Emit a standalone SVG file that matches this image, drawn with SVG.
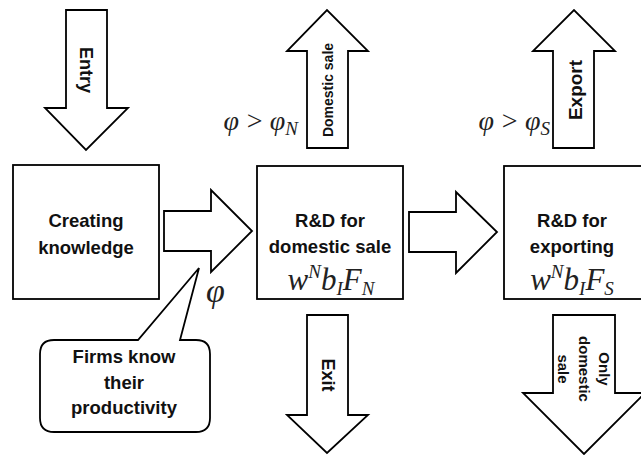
<svg xmlns="http://www.w3.org/2000/svg" width="641" height="455" viewBox="0 0 641 455">
<style>
.shape{fill:#fff;stroke:#000;stroke-width:1.8;stroke-linejoin:miter}
.lbl{font-family:"Liberation Sans",Arial,sans-serif;font-weight:bold;fill:#111;text-anchor:middle}
.math{font-family:"Liberation Serif","Times New Roman",serif;font-style:italic;fill:#222}
</style>
<rect width="641" height="455" fill="#fff"/>
<g id="connectors">
  <g id="arrow-entry">
    <polygon class="shape" points="66,10 107,10 107,108 128,108 86,150 45,108 66,108"/>
    <text class="lbl" font-size="18" dominant-baseline="central" transform="rotate(90 86 70)" x="86" y="70">Entry</text>
  </g>
  <g id="arrow-1">
    <polygon class="shape" points="164,211 211,211 211,190 252,231 211,272 211,251 164,251"/>
  </g>
  <g id="arrow-2">
    <polygon class="shape" points="409,212 456,212 456,192 497,232 456,273 456,252 409,252"/>
  </g>
  <g id="arrow-domestic">
    <polygon class="shape" points="307,148 307,51 287,51 327,10 368,51 348,51 348,148"/>
    <text class="lbl" font-size="14" dominant-baseline="central" transform="rotate(-90 328 90)" x="328" y="90">Domestic sale</text>
  </g>
  <g id="arrow-exit">
    <polygon class="shape" points="307,315 348,315 348,415 368,415 327,453 287,415 307,415"/>
    <text class="lbl" font-size="18" dominant-baseline="central" transform="rotate(90 328 375)" x="328" y="375">Exit</text>
  </g>
  <g id="arrow-export">
    <polygon class="shape" points="553,148 553,51 533,51 574,10 615,51 594,51 594,148"/>
    <text class="lbl" font-size="19" dominant-baseline="central" transform="rotate(-90 575 90)" x="575" y="90">Export</text>
  </g>
  <g id="arrow-only">
    <polygon class="shape" points="553,315 615,315 615,393 645,393 584,454 523,393 553,393"/>
    <g class="lbl" font-size="15">
      <text dominant-baseline="central" transform="rotate(90 604 369)" x="604" y="369">Only</text>
      <text dominant-baseline="central" transform="rotate(90 584 369)" x="584" y="369">domestic</text>
      <text dominant-baseline="central" transform="rotate(90 563 369)" x="563" y="369">sale</text>
    </g>
  </g>
  <text class="math" font-size="28" x="298" y="130" text-anchor="end">φ<tspan dx="6">&gt;</tspan><tspan dx="6">φ</tspan><tspan font-size="19" dy="5">N</tspan></text>
  <text class="math" font-size="28" x="550" y="130" text-anchor="end">φ<tspan dx="6">&gt;</tspan><tspan dx="6">φ</tspan><tspan font-size="19" dy="5">S</tspan></text>
  <text class="math" font-size="34" x="206" y="302">φ</text>
</g>
<g id="node-creating">
  <rect class="shape" x="13" y="165" width="146" height="134"/>
  <text class="lbl" font-size="18.5" x="86" y="227">Creating</text>
  <text class="lbl" font-size="18.5" x="86" y="254">knowledge</text>
</g>
<g id="node-domestic">
  <rect class="shape" x="257" y="166" width="146" height="133"/>
  <text class="lbl" font-size="18.5" x="330" y="227">R&amp;D for</text>
  <text class="lbl" font-size="18.5" x="330" y="253">domestic sale</text>
  <text class="math" font-size="31" x="331" y="290" text-anchor="middle">w<tspan font-size="19" dy="-12">N</tspan><tspan dy="12">b</tspan><tspan font-size="19" dy="5">I</tspan><tspan dy="-5">F</tspan><tspan font-size="19" dy="5">N</tspan></text>
</g>
<g id="node-exporting">
  <rect class="shape" x="504" y="166" width="145" height="133"/>
  <text class="lbl" font-size="18.5" x="572" y="227">R&amp;D for</text>
  <text class="lbl" font-size="18.5" x="572" y="253">exporting</text>
  <text class="math" font-size="31" x="572" y="290" text-anchor="middle">w<tspan font-size="19" dy="-12">N</tspan><tspan dy="12">b</tspan><tspan font-size="19" dy="5">I</tspan><tspan dy="-5">F</tspan><tspan font-size="19" dy="5">S</tspan></text>
</g>
<g id="node-callout">
  <path class="shape" d="M54,340 L138,340 L199,268 L180,340 L196,340 Q210,340 210,354 L210,418 Q210,432 196,432 L54,432 Q40,432 40,418 L40,354 Q40,340 54,340 Z"/>
  <text class="lbl" font-size="18.5" x="124" y="363">Firms know</text>
  <text class="lbl" font-size="18.5" x="124" y="389">their</text>
  <text class="lbl" font-size="18.5" x="124" y="414">productivity</text>
</g>
</svg>
